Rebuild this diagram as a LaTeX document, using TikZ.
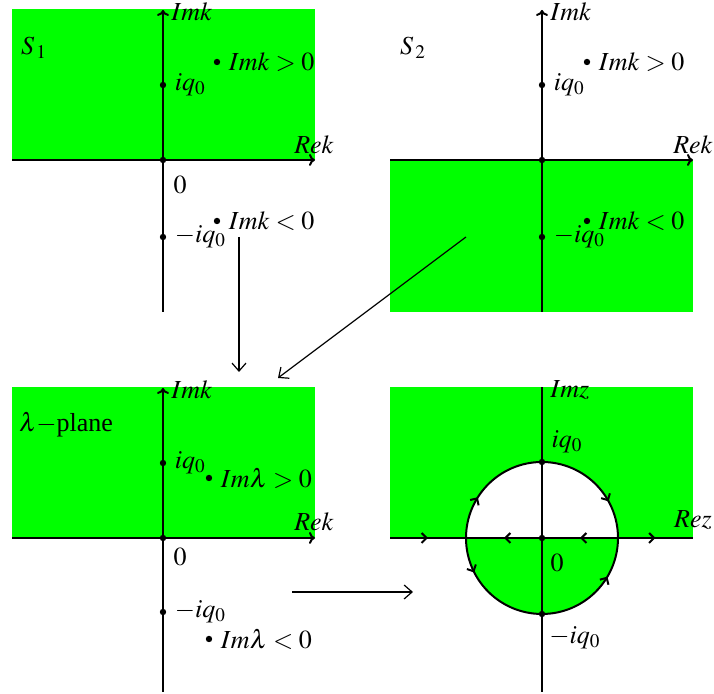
\documentclass[12pt,tikz,border=0pt]{standalone}
\usepackage{mathptmx}
\usepackage{fontspec}
\setmainfont{Liberation Serif}
\usetikzlibrary{arrows.meta, decorations.markings}
\tikzset{
  every node/.style={font=\fontsize{13}{15}\selectfont},
  plane/.style={fill=green},
  axis/.style={line width=1pt, -{To[length=3pt,width=6pt]}},
  bare/.style={line width=1pt},
  pt/.style={fill, circle, inner sep=0pt, minimum size=3.2pt},
  flow/.style={postaction={decorate, decoration={markings,
      mark=at position #1 with {\arrow{Straight Barb[length=2.5pt,width=5pt]}}}}},
  map/.style={line width=0.6pt, -{Straight Barb[length=4pt,width=7pt]}}
}

\begin{document}
\begin{tikzpicture}[x=0.5pt, y=0.5pt]
    \useasboundingbox (0,0) rectangle (714,694);

    % S_1 (upper half plane)
    \fill[plane] (12,534) rectangle (315,685);
    \draw[axis] (12,534) -- (315,534);
    \draw[axis] (163,382) -- (163,684);
    \node[right] (sonelm) at (163,682) {$Imk$};
    \node (sonere) at (314,549) {$Rek$};
    \node (sonename) at (34,646) {$S_{\,1}$};
    \node (sonezero) at (180,509) {$0$};
    \node[pt] (soneo) at (163,534) {};
    \node[pt, label=right:$iq_0$] (sonep) at (163,609) {};
    \node[pt, label=right:$-iq_0$] (sonem) at (163,457) {};
    \node[pt, label=right:$Imk>0$] (soneu) at (217,632) {};
    \node[pt, label=right:$Imk<0$] (soned) at (217,473) {};

    % S_2 (lower half plane)
    \fill[plane] (390,382) rectangle (693,534);
    \draw[axis] (390,534) -- (693,534);
    \draw[axis] (542,382) -- (542,684);
    \node[right] (stwolm) at (542,682) {$Imk$};
    \node (stwore) at (693,549) {$Rek$};
    \node (stwoname) at (413,646) {$S_{\,2}$};
    \node[pt] (stwoo) at (542,534) {};
    \node[pt, label=right:$iq_0$] (stwop) at (542,609) {};
    \node[pt, label=right:$-iq_0$] (stwom) at (542,457) {};
    \node[pt, label=right:$Imk>0$] (stwou) at (587,632) {};
    \node[pt, label=right:$Imk<0$] (stwod) at (587,473) {};

    % lambda-plane
    \fill[plane] (12,156) rectangle (315,307);
    \draw[axis] (12,156) -- (315,156);
    \draw[axis] (163,2) -- (163,306);
    \node[right] (laim) at (163,304) {$Imk$};
    \node (lare) at (314,172) {$Rek$};
    \node (laname) at (66,269) {$\lambda$$-$plane};
    \node (lazero) at (180,137) {$0$};
    \node[pt] (lao) at (163,156) {};
    \node[pt, label=right:$iq_0$] (lap) at (163,231) {};
    \node[pt, label=right:$-iq_0$] (lam) at (163,82) {};
    \node[pt, label=right:$Im\lambda<0$] (lad) at (209,55) {};
    \node[pt, label=right:$Im\lambda>0$] (lau) at (209,216) {};

    % z-plane
    \fill[plane] (390,156) rectangle (693,307);
    \fill[white] (466,156) arc[start angle=180, end angle=0, radius=76] -- cycle;
    \fill[plane] (466,156) arc[start angle=180, end angle=360, radius=76] -- cycle;
    \draw[bare] (542,2) -- (542,307);
    \draw[bare, flow=0.5] (390,156) -- (466,156);
    \draw[bare, flow=0.5] (542,156) -- (466,156);
    \draw[bare, flow=0.5] (618,156) -- (542,156);
    \draw[bare, flow=0.5] (618,156) -- (693,156);
    \draw[bare, flow=0.18, flow=0.84] (466,156) arc[start angle=180, end angle=0, radius=76];
    \draw[bare, flow=0.15, flow=0.83] (466,156) arc[start angle=180, end angle=360, radius=76];
    \node[right] (zim) at (542,304) {$Imz$};
    \node (zre) at (693,174) {$Rez$};
    \node (zzero) at (557,131) {$0$};
    \node[pt] (zo) at (542,156) {};
    \node[pt] (zp) at (542,232) {};
    \node[pt] (zm) at (542,80) {};
    \node (zplab) at (567,252) {$iq_0$};
    \node (zmlab) at (575,56) {$-iq_0$};

    % Maps between the planes
    \coordinate (fromone) at (239,457);
    \coordinate (toone) at (239,322);
    \coordinate (fromtwo) at (466,457);
    \coordinate (totwo) at (278,316);
    \coordinate (fromla) at (292,102);
    \coordinate (tola) at (413,102);
    \draw[map] (fromone) -- (toone);
    \draw[map] (fromtwo) -- (totwo);
    \draw[map] (fromla) -- (tola);

\end{tikzpicture}
\end{document}
